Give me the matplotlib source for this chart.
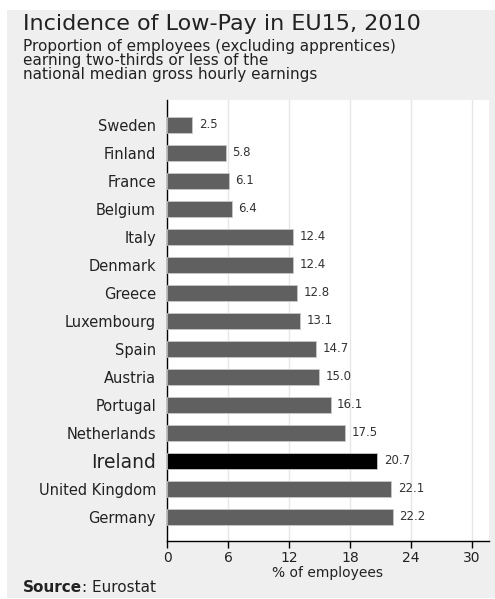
import matplotlib
matplotlib.use("Agg")
import matplotlib.pyplot as plt
from matplotlib.patches import Rectangle

countries = ["Sweden", "Finland", "France", "Belgium", "Italy", "Denmark", "Greece",
             "Luxembourg", "Spain", "Austria", "Portugal", "Netherlands", "Ireland",
             "United Kingdom", "Germany"]
values = [2.5, 5.8, 6.1, 6.4, 12.4, 12.4, 12.8, 13.1, 14.7, 15.0, 16.1, 17.5, 20.7, 22.1, 22.2]
highlight = "Ireland"
xticks = [0, 6, 12, 18, 24, 30]
title = 'Incidence of Low-Pay in EU15, 2010'
subtitle_lines = ['Proportion of employees (excluding apprentices)',
                  'earning two-thirds or less of the',
                  'national median gross hourly earnings']

plt.rcParams['font.family'] = ['DejaVu Sans']

fig = plt.figure(figsize=(4.95, 5.99), dpi=100)
fig.patch.set_facecolor('white')
bg = Rectangle((7/495, 1/599), 488/495, 588/599, transform=fig.transFigure,
               facecolor='#efefef', edgecolor='none', zorder=-10)
fig.add_artist(bg)

ax = fig.add_axes([167/495, 1 - 541/599, 322/495, 441/599])
ax.set_zorder(1)
ax.set_facecolor('white')

ypos = list(range(len(countries)))
colors = ['black' if c == highlight else '#606060' for c in countries]
ax.barh(ypos, values, height=0.6, color=colors, edgecolor='#c8c8c8', linewidth=0.6, zorder=3)

for y, v in zip(ypos, values):
    ax.text(v + 0.65, y, f"{v:.1f}", va='center', ha='left', fontsize=8.5, color='#333333', zorder=4)

ax.set_ylim(14.86, -0.89)
ax.set_xlim(0, 31.7)
ax.set_yticks(ypos)
ax.set_yticklabels(countries)
for lbl in ax.get_yticklabels():
    if lbl.get_text() == highlight:
        lbl.set_fontsize(13.5)
    else:
        lbl.set_fontsize(10.5)
    lbl.set_color('#222222')
ax.tick_params(axis='y', length=0, pad=8)
ax.set_xticks(xticks)
ax.set_xticklabels([str(t) for t in xticks], fontsize=10, color='#222222')
ax.tick_params(axis='x', length=5, width=1, direction='out', pad=2, color='black')
ax.grid(axis='x', color='#e6e6e6', linewidth=1, zorder=0)
ax.set_axisbelow(True)
for s in ['top', 'right']:
    ax.spines[s].set_visible(False)
ax.spines['left'].set_color('black')
ax.spines['bottom'].set_color('black')
ax.spines['left'].set_linewidth(1)
ax.spines['bottom'].set_linewidth(1)
ax.set_xlabel('% of employees', fontsize=10, color='#222222', labelpad=1)

fig.text(23/495, 1 - 24/599, title, fontsize=16, va='center', ha='left', color='#222222')
for i, line in enumerate(subtitle_lines):
    fig.text(23/495, 1 - (46 + 14 * i)/599, line, fontsize=11, va='center', ha='left',
             color='#222222')
t1 = fig.text(23/495, 1 - 587/599, 'Source', fontsize=11, fontweight='bold',
              va='center', ha='left', color='#222222')
fig.canvas.draw()
bb = t1.get_window_extent()
fig.text(bb.x1 / fig.bbox.width, 1 - 587/599, ': Eurostat', fontsize=11, va='center',
         ha='left', color='#222222')

fig.savefig('out.png', dpi=100, facecolor=fig.get_facecolor())
